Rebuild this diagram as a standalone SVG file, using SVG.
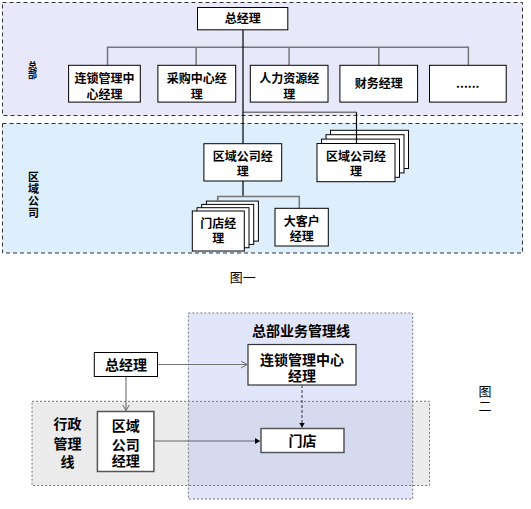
<svg xmlns="http://www.w3.org/2000/svg" width="531" height="509" viewBox="0 0 531 509">
<style>
text{font-family:"Noto Sans CJK SC","DejaVu Sans",sans-serif;text-anchor:middle;fill:#000}
.b{font-weight:bold}
.t12{font-size:12px}
.t14{font-size:14px}
.v{writing-mode:tb;glyph-orientation-vertical:0}
.box{fill:#fff;stroke:#000;stroke-width:1}
.box2{fill:#fff;stroke:#555;stroke-width:1.5}
.reg{stroke:#333;stroke-width:1;stroke-dasharray:4 3}
.reg2{fill:none;stroke:#777;stroke-width:1;stroke-dasharray:2 2}
.tr{stroke:#000;stroke-width:1.2;fill:none}
.br{stroke:#777;stroke-width:1.5;fill:none}
.ar{stroke:#777;stroke-width:1.2;fill:none}
</style>
<defs>
<marker id="open" markerWidth="8" markerHeight="8" refX="6" refY="3.5" orient="auto" markerUnits="userSpaceOnUse">
<path d="M0,0 L6,3.5 L0,7" fill="none" stroke="#666" stroke-width="1"/>
</marker>
<marker id="fill" markerWidth="7" markerHeight="7" refX="5" refY="3" orient="auto" markerUnits="userSpaceOnUse">
<path d="M0,0 L5,3 L0,6 Z" fill="#000"/>
</marker>
</defs>

<!-- Figure 1 regions -->
<g id="region-hq">
<rect class="reg" x="2.5" y="2.5" width="520" height="113" fill="#E8E8FA"/>
<text class="b v" style="font-size:9px" x="32.5" y="70.5">总部</text>
</g>
<g id="region-area">
<rect class="reg" x="2.5" y="123.5" width="520" height="129.5" fill="#DDEEFD"/>
<text class="b v" style="font-size:11px;letter-spacing:1.3px" x="33.5" y="195.5">区域公司</text>
</g>

<g id="connectors1">
<path class="br" d="M107.5,65 V47.3 H468.4 V65 M196.1,47.3 V65 M289.1,47.3 V65 M378.8,47.3 V65"/>
<path class="br" d="M243,112.3 H356.5"/>
<path class="tr" d="M243,30 V143.5"/>
<path class="tr" d="M243,181 V196.5"/>
<path class="br" d="M217.7,201.5 V196.5 H299.3 V208.3"/>
</g>

<g id="n-gm">
<rect class="box" x="197.5" y="7.5" width="90.3" height="22.3"/>
<text class="b t12" x="242.7" y="23">总经理</text>
</g>
<g id="n-chain">
<rect class="box" x="68.6" y="65.3" width="71.7" height="36.8"/>
<text class="b t12" x="104.5" y="83">连锁管理中<tspan x="104.5" dy="16">心经理</tspan></text>
</g>
<g id="n-purchase">
<rect class="box" x="157.9" y="65.3" width="77.8" height="36.8"/>
<text class="b t12" x="196.8" y="83">采购中心经<tspan x="196.8" dy="16">理</tspan></text>
</g>
<g id="n-hr">
<rect class="box" x="250.3" y="65.3" width="77.7" height="36.8"/>
<text class="b t12" x="289.2" y="83">人力资源经<tspan x="289.2" dy="16">理</tspan></text>
</g>
<g id="n-finance">
<rect class="box" x="339.9" y="65.3" width="77.7" height="36.8"/>
<text class="b t12" x="378.8" y="88">财务经理</text>
</g>
<g id="n-more">
<rect class="box" x="429.5" y="65.3" width="76.7" height="36.8"/>
<text class="b t12" x="467.8" y="88">......</text>
</g>
<g id="n-area1">
<rect class="box" x="203.9" y="143.7" width="77.8" height="37.3"/>
<text class="b t12" x="242.8" y="160.5">区域公司经<tspan x="242.8" dy="15">理</tspan></text>
</g>
<g id="n-area2">
<rect class="box" x="330.5" y="130.3" width="78" height="38.2"/>
<rect class="box" x="326" y="134.7" width="78" height="38.2"/>
<rect class="box" x="321.5" y="139.1" width="78" height="38.2"/>
<rect class="box" x="317" y="143.5" width="78" height="38.2"/>
<text class="b t12" x="356" y="160.5">区域公司经<tspan x="356" dy="15">理</tspan></text>
</g>
<g id="n-store">
<rect class="box" x="206.4" y="201.1" width="52" height="40"/>
<rect class="box" x="201.7" y="204.4" width="52" height="40"/>
<rect class="box" x="197" y="207.7" width="52" height="40"/>
<rect class="box" x="192.3" y="211" width="52" height="40"/>
<text class="b t12" x="218.3" y="228">门店经<tspan x="218.3" dy="14.5">理</tspan></text>
</g>
<g id="n-bigclient">
<rect class="box" x="275" y="208.3" width="53.3" height="37.7"/>
<text class="b t12" x="301.7" y="225.5">大客户<tspan x="301.7" dy="15">经理</tspan></text>
</g>
<g id="connectors1b">
<path class="tr" d="M356.5,112.3 V143.5"/>
<path class="br" d="M217.7,201.5 V196.5"/>
</g>

<text id="cap1" style="font-size:13px" x="242.7" y="282">图一</text>

<!-- Figure 2 regions -->
<g id="region-lines">
<rect x="188.4" y="313" width="224.3" height="186" fill="#E1E6FB"/>
<rect x="32" y="401.3" width="397.5" height="84.2" fill="#EBEBEB"/>
<rect x="188.4" y="401.3" width="224.3" height="84.2" fill="#D5DAEF"/>
<rect class="reg2" x="188.4" y="313" width="224.3" height="186"/>
<rect class="reg2" x="32" y="401.3" width="397.5" height="84.2"/>
<text class="b t14" x="301" y="336">总部业务管理线</text>
<text class="b t14" x="67.6" y="429">行政<tspan x="67.6" dy="20">管理</tspan><tspan x="67.6" dy="17.5">线</tspan></text>
</g>

<g id="connectors2">
<path class="ar" d="M157.5,364.5 H247" marker-end="url(#open)"/>
<path class="ar" d="M126,377 V410.5" marker-end="url(#open)"/>
<path d="M154,441 H260" stroke="#666" stroke-width="1.2" fill="none" marker-end="url(#fill)"/>
<path d="M302,385 V427.5" stroke="#333" stroke-width="1" stroke-dasharray="3 2" fill="none" marker-end="url(#fill)"/>
</g>

<g id="m-gm">
<rect class="box" x="94.3" y="352.5" width="63.2" height="24"/>
<text class="b t14" x="125.9" y="370">总经理</text>
</g>
<g id="m-chain">
<rect x="248" y="344.5" width="108" height="40.5" fill="#fff" stroke="#333" stroke-width="1.2"/>
<text class="b t14" x="302" y="365">连锁管理中心<tspan x="302" dy="16">经理</tspan></text>
</g>
<g id="m-area">
<rect class="box2" x="97.4" y="411.5" width="56.5" height="60"/>
<text class="b t14" x="125.7" y="431">区域<tspan x="125.7" dy="19">公司</tspan><tspan x="125.7" dy="16">经理</tspan></text>
</g>
<g id="m-store">
<rect class="box2" x="261" y="428.5" width="83" height="24"/>
<text class="b t14" x="302.5" y="446">门店</text>
</g>

<text id="cap2" class="v" style="font-size:13px;letter-spacing:2.5px" x="485" y="400">图二</text>
</svg>
